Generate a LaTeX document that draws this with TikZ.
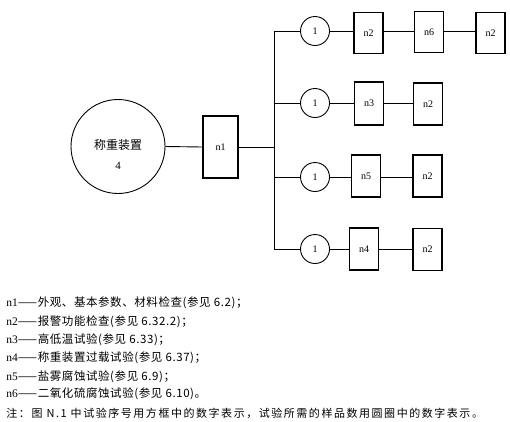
\documentclass[tikz,border=0pt]{standalone}
\usepackage{fontspec}
\setmainfont{Liberation Serif}
\newfontfamily\cjk[LetterSpace=5]{Noto Sans CJK SC}
\newfontfamily\cjkc{Noto Sans CJK SC}
\newfontfamily\cjksp[LetterSpace=14]{Noto Sans CJK SC}
\begin{document}
\begin{tikzpicture}[x=1pt,y=-1pt,
  line width=0.9pt,
  bx/.style={draw,line width=1.1pt,minimum width=29pt,minimum height=41pt,inner sep=0pt,font=\fontsize{10}{12}\selectfont},
  sc/.style={draw,circle,minimum size=29pt,inner sep=0pt,font=\fontsize{10}{12}\selectfont},
  leg/.style={anchor=west,inner sep=0pt,font=\fontsize{11.5}{13}\selectfont}]
\useasboundingbox (0,0) rectangle (510,421);
% main device
\node[draw,circle,minimum size=94pt,inner sep=0pt] (dev) at (118,146.5) {};
\node[inner sep=0pt,font=\cjkc\fontsize{12}{14}\selectfont] (devt) at (118,145) {称重装置};
\node[inner sep=0pt,font=\fontsize{11}{13}\selectfont] (devn) at (118,166) {4};
\node[bx,minimum width=35pt,minimum height=62pt] (n1) at (220.5,147) {n1};
\coordinate (vm) at (274,147);
\coordinate (v1) at (274,31);
\coordinate (v2) at (274,103);
\coordinate (v3) at (274,177);
\coordinate (v4) at (274,249);
\draw (dev.east) -- (n1.west);
\draw (n1.east) -- (vm);
\draw (v1) -- (v4);
% row 1
\node[sc] (c1) at (315,31) {1};
\node[bx] (r1a) at (368.5,33) {n2};
\node[bx] (r1b) at (429,32) {n6};
\node[bx] (r1c) at (490.5,33) {n2};
% row 2
\node[sc] (c2) at (315,103) {1};
\node[bx,minimum height=43pt] (r2a) at (369,103.5) {n3};
\node[bx,minimum height=42pt] (r2b) at (428,104) {n2};
% row 3
\node[sc] (c3) at (315,177) {1};
\node[bx,minimum height=42pt] (r3a) at (366,176) {n5};
\node[bx,minimum height=42pt] (r3b) at (427.5,176) {n2};
% row 4
\node[sc] (c4) at (315,249) {1};
\node[bx,minimum height=42pt] (r4a) at (364,249) {n4};
\node[bx,minimum height=42pt] (r4b) at (427.5,249.5) {n2};
\foreach \v/\c in {v1/c1,v2/c2,v3/c3,v4/c4} \draw (\v) -- (\c.west);
\draw (c1.east) -- (r1a.west |- c1.east);
\draw (r1a.east |- c1.east) -- (r1b.west |- c1.east);
\draw (r1b.east |- c1.east) -- (r1c.west |- c1.east);
\draw (c2.east) -- (r2a.west |- c2.east);
\draw (r2a.east |- c2.east) -- (r2b.west |- c2.east);
\draw (c3.east) -- (r3a.west |- c3.east);
\draw (r3a.east |- c3.east) -- (r3b.west |- c3.east);
\draw (c4.east) -- (r4a.west |- c4.east);
\draw (r4a.east |- c4.east) -- (r4b.west |- c4.east);
% legend
\node[leg] (l1) at (6,303) {n1\cjk{——外观、基本参数、材料检查(参见 6.2)；}};
\node[leg] (l2) at (6,322) {n2\cjk{——报警功能检查(参见 6.32.2)；}};
\node[leg] (l3) at (6,340) {n3\cjk{——高低温试验(参见 6.33)；}};
\node[leg] (l4) at (6,358) {n4\cjk{——称重装置过载试验(参见 6.37)；}};
\node[leg] (l5) at (6,377) {n5\cjk{——盐雾腐蚀试验(参见 6.9)；}};
\node[leg] (l6) at (6,394) {n6\cjk{——二氧化硫腐蚀试验(参见 6.10)。}};
\node[leg,font=\fontsize{11}{13}\selectfont] (l7) at (6,413) {\cjksp 注：图 N.1 中试验序号用方框中的数字表示，试验所需的样品数用圆圈中的数字表示。};
\end{tikzpicture}
\end{document}
